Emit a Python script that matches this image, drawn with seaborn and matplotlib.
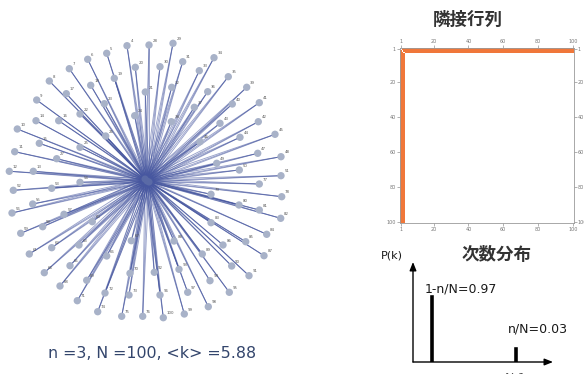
import numpy as np
import matplotlib
matplotlib.use("Agg")
import matplotlib.pyplot as plt
from matplotlib.collections import LineCollection
from matplotlib.colors import ListedColormap
import seaborn as sns

# ---- network: 3 hubs, 97 peripheral nodes each linked to every hub ----
n_hubs = 3
n_nodes = 100
mean_degree = 5.88

hub_x = [0.0, -2.0, 2.0]
hub_y = [0.0, 2.0, -1.0]

node_x = [
    -20, -40.3, -59.3, -77.7, -97.7, -110.3, -129.7, -132.3, -137.7, -113.7,
    -111, -107.7, -88.3, -80.7, -56.3, -32.7, -11.7, -1.7, -67, -42.7,
    -12.3, -67, -41.3, -90.3,
    2, 26, 13, 35.7, 24.7, 52.3, 67, 81.3, 60.7, 47.3,
    24.3, 99.7, 85.3, 112.3, 111.3, 73, 93, 128, 53, 110.7,
    134, 69.7, 92.3, 134,
    -133.7, -95.3, -67, -114.3, -135, -83, -104.3, -126.3, -54.7, -117.7,
    -95.3, -68, -102.7, -77, -40.3, -15.7, -87, -60.3, -17, -69.7,
    -42, -18, -49.3, -25.3, -4.3,
    112.3, 134.7, 64, 92, 112.3, 133.7, 64, 119.7, 98.7, 76,
    117, 27, 55.3, 84.7, 102, 7.3, 32, 63, 82.3, 13,
    40.7, 61.3, 37.3, 16.3,
]
node_y = [
    135.3, 127.7, 121.7, 112.3, 100, 81, 52, 29.3, 9.7, 9.7,
    60.3, 37.7, 60.3, 87.3, 95.7, 102.7, 113.7, 89, 67, 77.3,
    65.3, 33.7, 45, 22.3,
    136, 137.7, 114.3, 119.3, 93.7, 110.3, 123.3, 104.3, 89.3, 73.7,
    59.3, 93.7, 77, 78.3, 59.3, 57.7, 43.7, 46.7, 39.3, 27.7,
    24.3, 17.7, 11, 5.3,
    -9.3, -7.3, -1.3, -23, -32, -33.3, -45.7, -52.3, -40.7, -73,
    -66.7, -64, -91.7, -84.7, -75, -59.7, -105, -99.3, -92.3, -119.7,
    -112, -114, -130.7, -135.3, -135.3,
    -3, -15.7, -13.3, -24, -29, -37.3, -41.7, -53.3, -60.7, -64,
    -74.7, -60, -73, -85, -94.7, -91.3, -88.3, -99.7, -111.3, -114,
    -111.3, -125.7, -133, -136.7,
]
node_ids = list(range(n_hubs + 1, n_nodes + 1))

# ---- degree distribution ----
degree_k = [n_hubs, n_nodes - 1]
degree_p = [0.97, 0.03]
degree_labels = ["1-n/N=0.97", "n/N=0.03"]

# ---- adjacency matrix ticks ----
matrix_ticks = [1, 20, 40, 60, 80, 100]

sns.set_style("white")
plt.rcParams["font.family"] = ["DejaVu Sans", "Noto Sans CJK JP"]

W, H = 584, 374
fig = plt.figure(figsize=(W / 100, H / 100), dpi=100)
fig.patch.set_facecolor("white")


def px_axes(x0, y0, x1, y1):
    return fig.add_axes([x0 / W, 1 - y1 / H, (x1 - x0) / W, (y1 - y0) / H])


# ---------------- network drawing ----------------
ax_net = px_axes(0, 0, 300, 374)
ax_net.set_xlim(-147, 153)
ax_net.set_ylim(-193, 181)
ax_net.axis("off")

segments = []
for px_, py_ in zip(node_x, node_y):
    for hx, hy in zip(hub_x, hub_y):
        segments.append([(hx, hy), (px_, py_)])
for i in range(n_hubs):
    for j in range(i + 1, n_hubs):
        segments.append([(hub_x[i], hub_y[i]), (hub_x[j], hub_y[j])])
ax_net.add_collection(LineCollection(segments, colors="#4757a0", linewidths=0.65,
                                     alpha=0.55, zorder=1))

sns.scatterplot(x=node_x, y=node_y, ax=ax_net, s=28, color="#a8b2c8",
                edgecolor="none", legend=False, zorder=3)
sns.scatterplot(x=hub_x, y=hub_y, ax=ax_net, s=26, color="#5a6aa6",
                edgecolor="none", legend=False, zorder=3)
for px_, py_, nid in zip(node_x, node_y, node_ids):
    ax_net.annotate(str(nid), (px_, py_), xytext=(2.5, 2.5), textcoords="offset points",
                    fontsize=2.8, color="#555555", zorder=4)

ax_net.text(5, -172, f"n ={n_hubs}, N ={n_nodes}, <k> ={mean_degree}",
            ha="center", va="center", fontsize=11.4, color="#33456c")

# ---------------- adjacency matrix ----------------
adj = np.zeros((n_nodes, n_nodes))
adj[:n_hubs, :] = 1
adj[:, :n_hubs] = 1
for i in range(n_hubs):
    adj[i, i] = 0

ax_mat = px_axes(399.8, 48.1, 573.6, 222.6)
sns.heatmap(adj, ax=ax_mat, cmap=ListedColormap(["white", "#f0773a"]), cbar=False,
            xticklabels=False, yticklabels=False, square=False)
tick_pos = [t - 0.5 for t in matrix_ticks]
ax_mat.set_xticks(tick_pos)
ax_mat.set_xticklabels([str(t) for t in matrix_ticks])
ax_mat.set_yticks(tick_pos)
ax_mat.set_yticklabels([str(t) for t in matrix_ticks])
ax_mat.tick_params(top=True, bottom=True, left=True, right=True,
                   labeltop=True, labelbottom=True, labelleft=True, labelright=True,
                   labelsize=3.5, length=2, width=0.4, colors="#777777", pad=1)
plt.setp(ax_mat.get_yticklabels(), rotation=0)
for sp in ax_mat.spines.values():
    sp.set_visible(True)
    sp.set_color("#9a9a9a")
    sp.set_linewidth(0.6)

fig.text(468 / W, 1 - 19.5 / H, "隣接行列", ha="center", va="center",
         fontsize=12.6, fontweight="bold", color="#333333",
         family=["Noto Sans CJK JP"])

# ---------------- degree distribution ----------------
ax_deg = px_axes(413, 262, 553, 362)
ax_deg.bar(degree_k, degree_p, width=6, color="black", log=True)
ax_deg.set_yscale("log")
ax_deg.set_ylim(0.01, 8.07)
ax_deg.set_xlim(-18, 142)
ax_deg.set_xticks([])
ax_deg.set_yticks([])
ax_deg.minorticks_off()
for sp in ax_deg.spines.values():
    sp.set_visible(False)
ax_deg.annotate("", xy=(0, 1), xytext=(0, 0), xycoords="axes fraction",
                arrowprops=dict(arrowstyle="-|>,head_length=0.5,head_width=0.2",
                                lw=1.0, color="black", shrinkA=0, shrinkB=0))
ax_deg.annotate("", xy=(1, 0), xytext=(0, 0), xycoords="axes fraction",
                arrowprops=dict(arrowstyle="-|>,head_length=0.5,head_width=0.2",
                                lw=1.0, color="black", shrinkA=0, shrinkB=0))
label_offsets = [(-4.7, 0.8), (-5.4, 9.3)]
for k, p, lab, off in zip(degree_k, degree_p, degree_labels, label_offsets):
    ax_deg.annotate(lab, (k, p), xytext=off, textcoords="offset points",
                    ha="left", va="baseline", fontsize=9, color="#1a1a1a",
                    annotation_clip=False)
ax_deg.annotate("N-1", (degree_k[1], 0.01), xytext=(0, -7), textcoords="offset points",
                ha="center", va="top", fontsize=9, color="#555555",
                annotation_clip=False)

fig.text(392 / W, 1 - 256 / H, "P(k)", ha="center", va="center",
         fontsize=8, color="#1a1a1a")
fig.text(497 / W, 1 - 255 / H, "次数分布", ha="center", va="center",
         fontsize=12.6, fontweight="bold", color="#333333",
         family=["Noto Sans CJK JP"])

fig.savefig("out.png", dpi=100, facecolor="white")
